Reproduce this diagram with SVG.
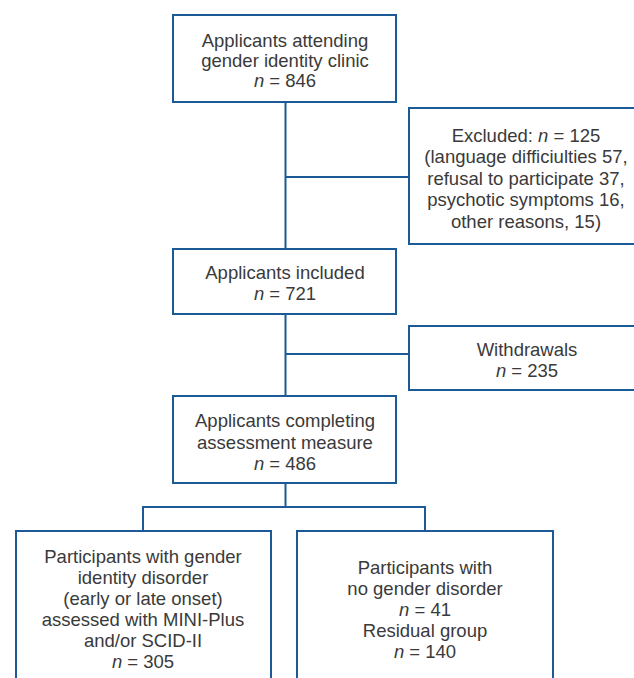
<svg xmlns="http://www.w3.org/2000/svg" width="634" height="678" viewBox="0 0 634 678">
<style>
.box{fill:#ffffff;stroke:#1b5a96;stroke-width:2}
.ln{fill:none;stroke:#1b5a96;stroke-width:2}
text{font-family:"Liberation Sans",Arial,sans-serif;font-size:18.5px;fill:#3a3a3a;text-anchor:middle}
.i{font-style:italic}
</style>
<rect width="634" height="678" fill="#ffffff"/>
<g id="connectors">
<path class="ln" d="M285.5 102 V249 M285.5 177 H409"/>
<path class="ln" d="M285.5 314 V396 M285.5 354 H409"/>
<path class="ln" d="M285.5 483 V507 M143 507 H425 M143 506 V531 M425 506 V531"/>
</g>
<g id="n1">
<rect class="box" x="173" y="15" width="223" height="87"/>
<text x="285" y="47">Applicants attending</text>
<text x="285" y="67">gender identity clinic</text>
<text x="285" y="87"><tspan class="i">n</tspan> = 846</text>
</g>
<g id="excluded">
<rect class="box" x="409" y="108" width="240" height="136"/>
<text x="526" y="142">Excluded: <tspan class="i">n</tspan> = 125</text>
<text x="526" y="163">(language difficiulties 57,</text>
<text x="526" y="185">refusal to participate 37,</text>
<text x="526" y="206">psychotic symptoms 16,</text>
<text x="526" y="228">other reasons, 15)</text>
</g>
<g id="n2">
<rect class="box" x="173" y="249" width="223" height="65"/>
<text x="285" y="279">Applicants included</text>
<text x="285" y="300"><tspan class="i">n</tspan> = 721</text>
</g>
<g id="withdrawals">
<rect class="box" x="409" y="326" width="240" height="64"/>
<text x="527" y="356">Withdrawals</text>
<text x="527" y="377"><tspan class="i">n</tspan> = 235</text>
</g>
<g id="n3">
<rect class="box" x="173" y="396" width="223" height="87"/>
<text x="285" y="427">Applicants completing</text>
<text x="285" y="449">assessment measure</text>
<text x="285" y="470"><tspan class="i">n</tspan> = 486</text>
</g>
<g id="gid">
<rect class="box" x="16" y="531" width="255" height="160"/>
<text x="143" y="563">Participants with gender</text>
<text x="143" y="584">identity disorder</text>
<text x="143" y="605">(early or late onset)</text>
<text x="143" y="626">assessed with MINI-Plus</text>
<text x="143" y="647">and/or SCID-II</text>
<text x="143" y="668"><tspan class="i">n</tspan> = 305</text>
</g>
<g id="nogd">
<rect class="box" x="297" y="531" width="256" height="160"/>
<text x="425" y="574">Participants with</text>
<text x="425" y="595">no gender disorder</text>
<text x="425" y="616"><tspan class="i">n</tspan> = 41</text>
<text x="425" y="637">Residual group</text>
<text x="425" y="658"><tspan class="i">n</tspan> = 140</text>
</g>
</svg>
